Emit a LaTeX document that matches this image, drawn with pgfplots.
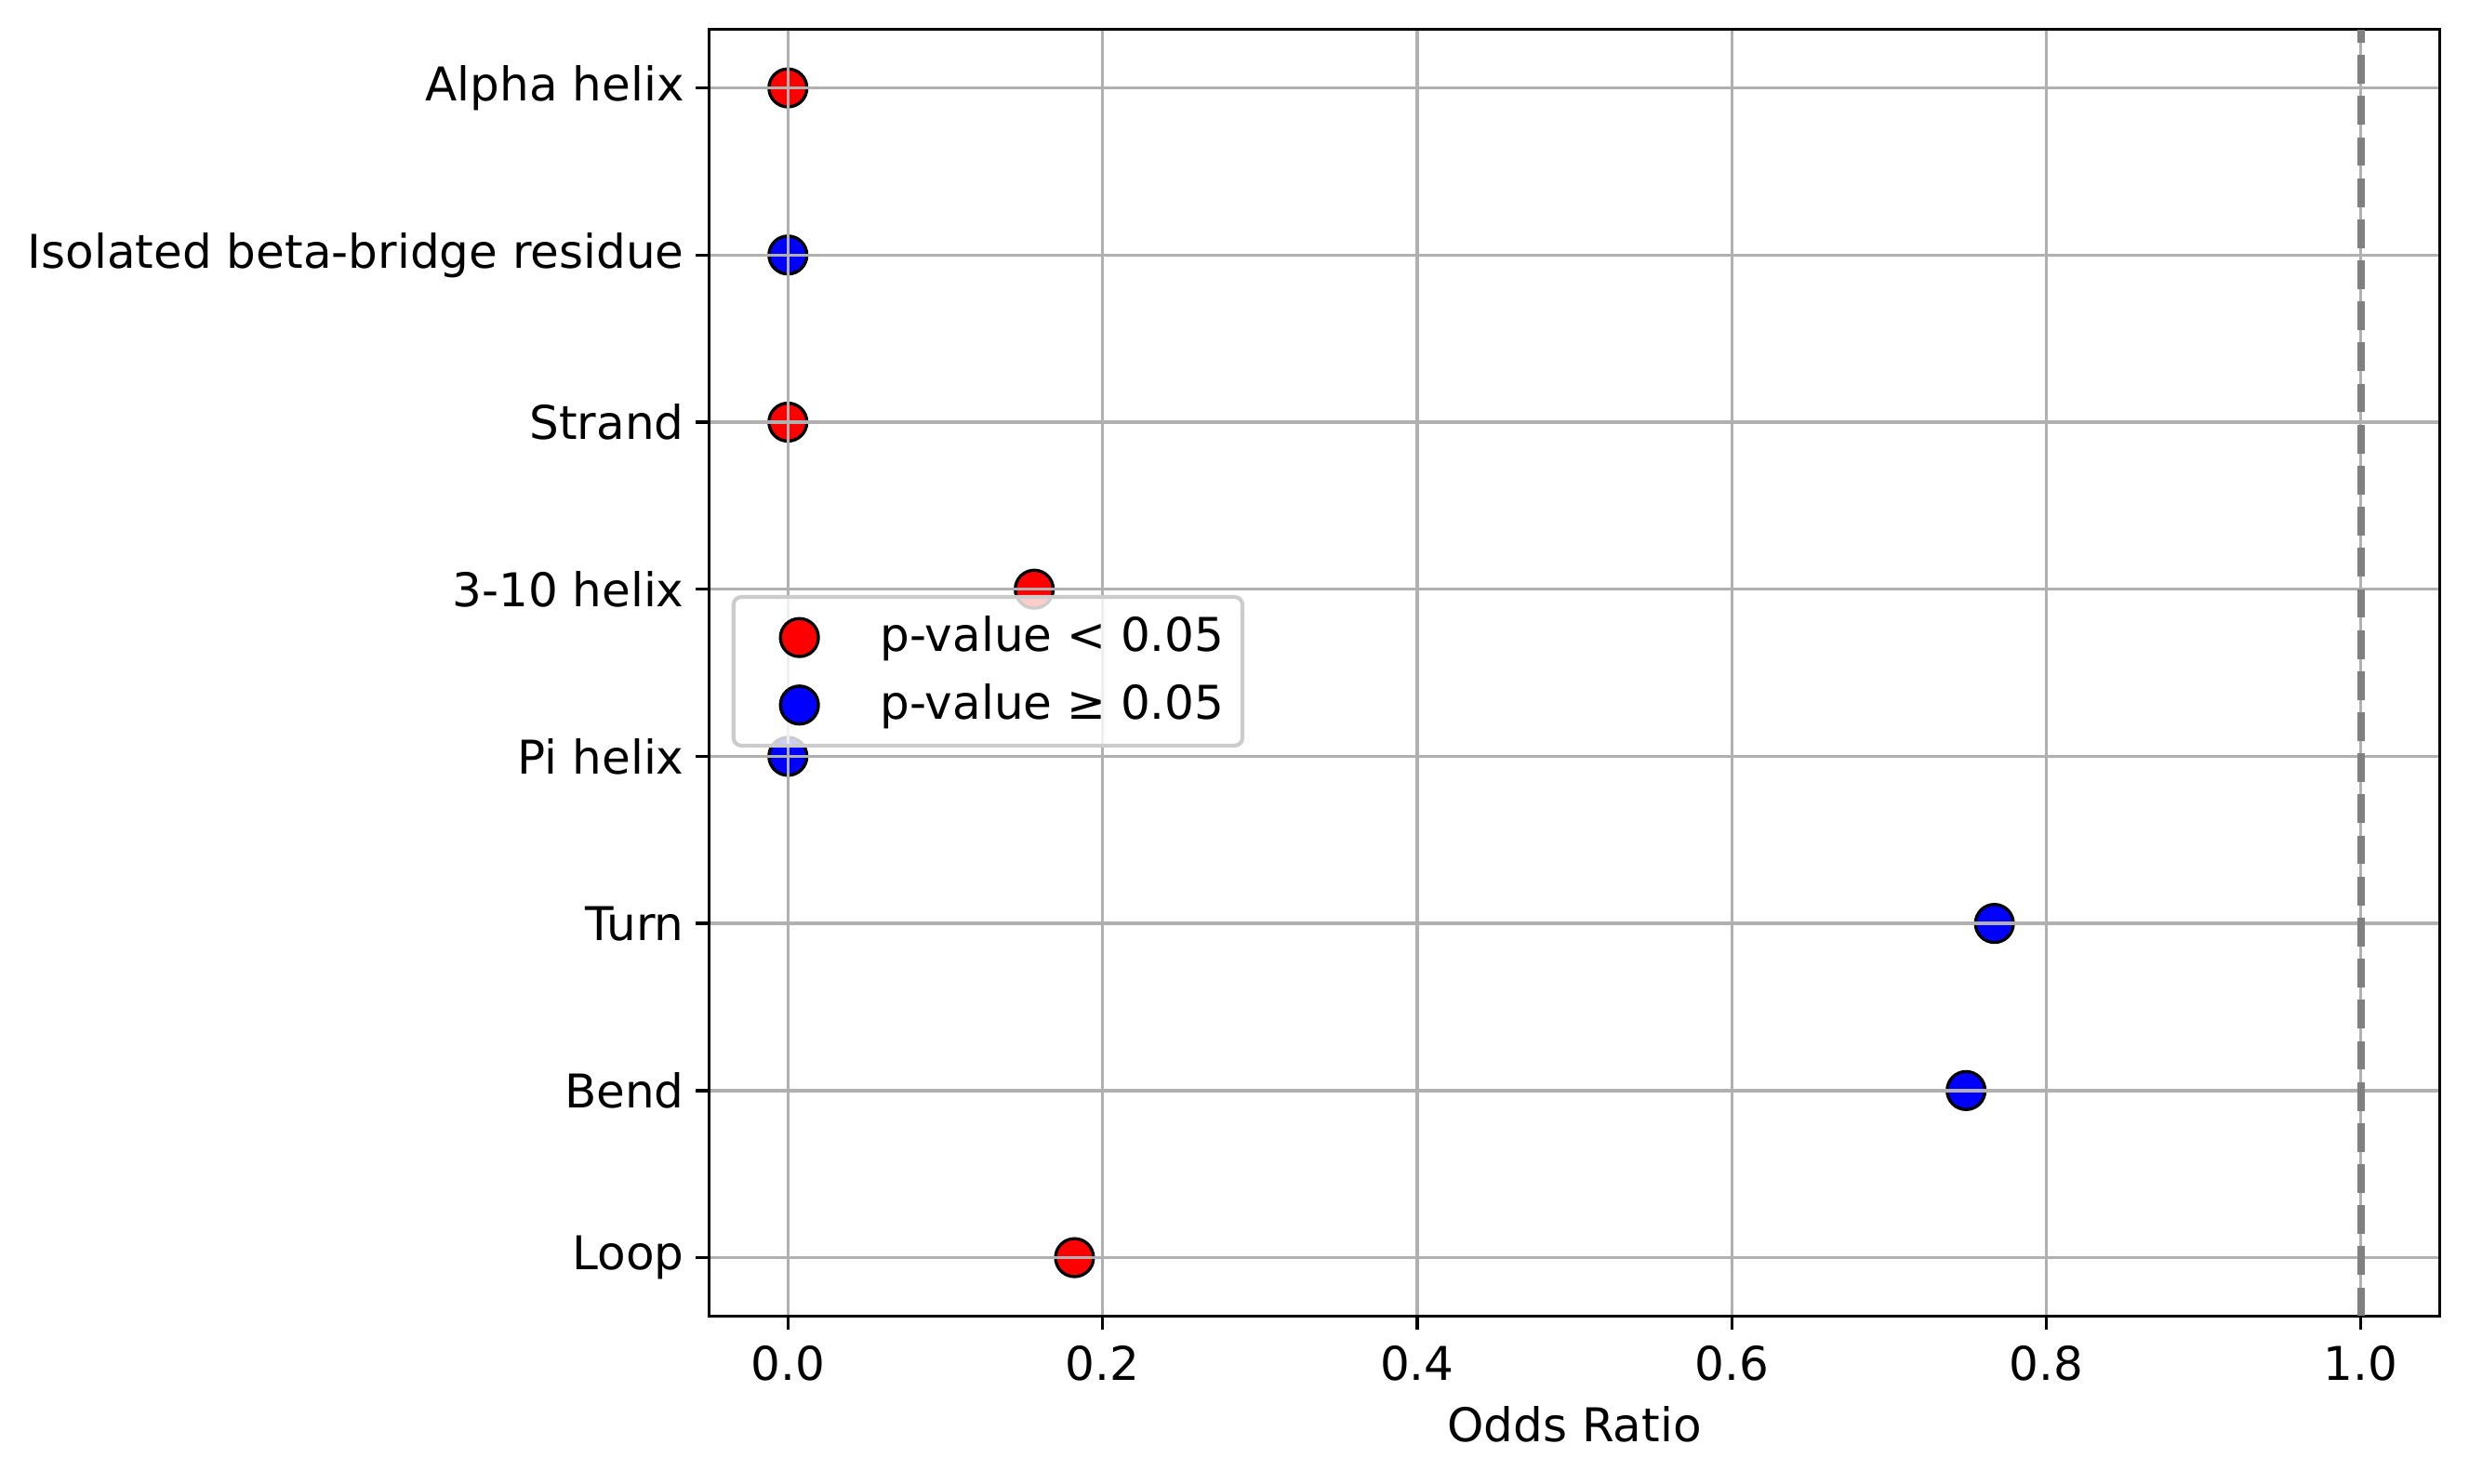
\documentclass[border=0pt,12pt]{standalone}
\usepackage{fontspec}
\setmainfont{DejaVu Sans}
\usepackage{pgfplots}
\pgfplotsset{compat=1.18}
\definecolor{gridgray}{HTML}{B0B0B0}
\definecolor{legframe}{HTML}{CCCCCC}
\definecolor{vgray}{HTML}{808080}
\begin{document}
\begin{tikzpicture}
\begin{axis}[
  name=ax,
  scale only axis,
  width=446.4pt, height=332pt,
  xmin=-0.05, xmax=1.05, ymin=-0.35, ymax=7.35,
  xtick={0,0.2,0.4,0.6,0.8,1.0},
  xticklabels={0.0,0.2,0.4,0.6,0.8,1.0},
  ytick={0,1,2,3,4,5,6,7},
  yticklabels={Loop,Bend,Turn,Pi helix,3-10 helix,Strand,Isolated beta-bridge residue,Alpha helix},
  yticklabel style={xshift=1.2pt},
  xlabel style={yshift=1.7pt},
  /pgf/number format/assume math mode=true,
  grid=major,
  grid style={gridgray, line width=0.8pt},
  axis line style={line width=0.8pt, black},
  tick align=outside,
  major tick length=3.5pt,
  tick style={line width=0.8pt, black},
  xtick pos=left, ytick pos=left,
  set layers=axis on top,
  xlabel={Odds Ratio},
  legend style={at={(rel axis cs:0.0129,0.5604)}, anchor=north west,
    draw=legframe, fill=white, fill opacity=0.8, text opacity=1, draw opacity=1,
    rounded corners=2pt, line width=1pt, inner xsep=3.2pt, inner ysep=3pt,
    nodes={inner ysep=2pt, inner xsep=1.5pt}, row sep=2.5pt},
  legend cell align=left,
  legend image code/.code={\path[draw=none,fill=none] (0pt,0pt) -- (33.1pt,0pt);\draw[mark repeat=2,mark phase=2,#1,fill opacity=1,draw opacity=1] plot coordinates {(0pt,0pt) (13.8pt,0pt) (27.6pt,0pt)};},
]
\addplot[only marks, mark=*, mark size=4.9pt, mark options={fill=red, draw=black, line width=0.8pt}]
  coordinates {(0,7) (0,5) (0.1566,4) (0.1822,0)};
\addlegendentry{p-value < 0.05}
\addplot[only marks, mark=*, mark size=4.9pt, mark options={fill=blue, draw=black, line width=0.8pt}]
  coordinates {(0,6) (0,3) (0.767,2) (0.749,1)};
\addlegendentry{p-value ≥ 0.05}
\addplot[on layer=axis foreground, vgray, line width=2pt, dash pattern=on 7.4pt off 3.2pt, forget plot]
  coordinates {(1,-0.35) (1,7.35)};
\end{axis}
\path ([shift={(-3.2pt,-6.7pt)}]current bounding box.south west) rectangle ([shift={(7.2pt,7.2pt)}]current bounding box.north east);
\end{tikzpicture}
\end{document}
